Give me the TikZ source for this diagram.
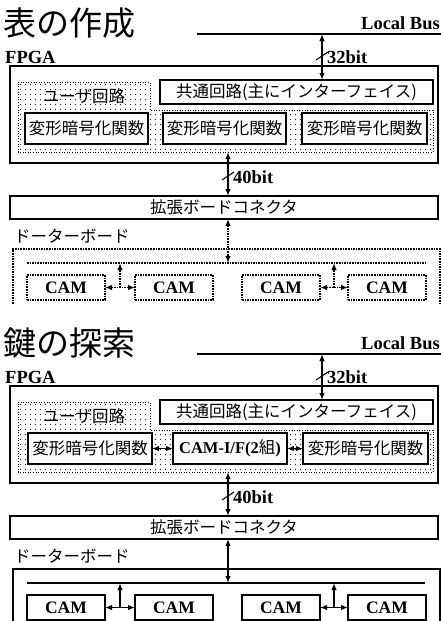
\documentclass[tikz,border=0pt]{standalone}
\usepackage{fontspec}
\setmainfont{Liberation Serif}
\newfontfamily\jp{Noto Sans CJK JP}
\usetikzlibrary{arrows.meta,calc}
\tikzset{
 jpt/.style={font=\jp\fontsize{16.5}{17}\selectfont},
 lat/.style={font=\bfseries\fontsize{18.5}{18.5}\selectfont},
 fbox/.style={draw, line width=1.3pt, inner sep=0pt, outer sep=0pt, anchor=north west},
 tbox/.style={draw, line width=2pt, fill=white, inner sep=0pt, outer sep=0pt, anchor=north west},
 cambox/.style={draw, line width=1.6pt, fill=white, inner sep=0pt, outer sep=0pt, anchor=north west, minimum width=78pt, minimum height=25pt, font=\bfseries\fontsize{17.5}{18}\selectfont},
 dbl/.style={line width=1.4pt, {Latex[length=7pt,width=5.5pt]}-{Latex[length=7pt,width=5.5pt]}},
 sgl/.style={line width=1.4pt, -{Latex[length=7pt,width=5.5pt]}},
 tickmark/.style={line width=1pt},
 dotl/.style={dash pattern=on 1.6pt off 1pt},
 solidl/.style={},
 userreg/.style={line width=0.9pt, dash pattern=on 1pt off 1.6pt},
}
\newcommand\drawpanel[3]{%
 \node[anchor=base west, font=\jp\fontsize{33}{33}\selectfont, inner sep=0pt] (#1title) at (3,35) {#2};
 \coordinate (#1busL) at (197,34);
 \coordinate (#1busR) at (441,34);
 \draw[line width=1.3pt] (#1busL) -- (#1busR);
 \node[lat, anchor=base east, inner sep=0pt] (#1lb) at (440,29) {Local Bus};
 \node[lat, anchor=base west, inner sep=0pt] (#1fl) at (5,63) {FPGA};
 \node[fbox, minimum width=428pt, minimum height=97pt] (#1fpga) at (10,66) {};
 \begin{scope}
  \clip (18,82) -- (150,82) -- (150,110) -- (433,110) -- (433,152) -- (18,152) -- cycle;
  \foreach \i in {0,...,83} {\foreach \j in {0,...,14} {\fill[black!85] (20.5+\i*5, 84.5+\j*5) circle (0.7pt);}}
 \end{scope}
 \draw[userreg] (18,82) -- (150,82) -- (150,110) -- (433,110) -- (433,152) -- (18,152) -- cycle;
 \node[jpt] (#1user) at (84,96) {ユーザ回路};
 \node[tbox, jpt, minimum width=273pt, minimum height=24pt] (#1com) at (160,80) {共通回路(主にインターフェイス)};
 \coordinate (#1a32) at (322,34);
 \draw[dbl] (#1a32) -- (#1a32 |- #1com.north);
 \coordinate (#1t32) at (322,56);
 \draw[tickmark] ([shift={(-6pt,-4pt)}]#1t32) -- ([shift={(6pt,4pt)}]#1t32);
 \node[lat, anchor=base west, inner sep=0pt] (#1l32) at (327,63) {32bit};
 \node[tbox, jpt, minimum width=428pt, minimum height=23pt] (#1conn) at (10,196) {拡張ボードコネクタ};
 \coordinate (#1ub) at (228,152);
 \draw[dbl] (#1ub) -- (#1ub |- #1conn.north);
 \coordinate (#1t40) at (228,176);
 \draw[tickmark] ([shift={(-6pt,-4pt)}]#1t40) -- ([shift={(6pt,4pt)}]#1t40);
 \node[lat, anchor=base west, inner sep=0pt] (#1l40) at (233,183) {40bit};
 \node[jpt, anchor=base west, inner sep=0pt] (#1dl) at (14,242) {ドーターボード};
 \draw[line width=1.5pt, #3] (13,304) -- (13,249) -- (440,249) -- (440,304);
 \coordinate (#1bus1) at (27,263);
 \coordinate (#1bus2) at (425,263);
 \draw[line width=1.5pt, #3] (#1bus1) -- (#1bus2);
 \draw[dbl, #3] (#1ub |- #1conn.south) -- (#1ub |- #1bus1);
 \node[cambox, #3] (#1c1) at (27,275) {CAM};
 \node[cambox, #3] (#1c2) at (135,275) {CAM};
 \node[cambox, #3] (#1c3) at (242,275) {CAM};
 \node[cambox, #3] (#1c4) at (348,275) {CAM};
 \draw[dbl, #3] (#1c1.east) -- (#1c2.west);
 \draw[dbl, #3] (#1c3.east) -- (#1c4.west);
 \coordinate (#1m1) at ($(#1c1.east)!0.5!(#1c2.west)$);
 \coordinate (#1m2) at ($(#1c3.east)!0.5!(#1c4.west)$);
 \draw[sgl, #3] (#1m1) -- (#1m1 |- #1bus1);
 \draw[sgl, #3] (#1m2) -- (#1m2 |- #1bus1);
}
\begin{document}
\begin{tikzpicture}[x=1pt, y=-1pt]
 \useasboundingbox (0,0) rectangle (441,621);
 \fill[white] (0,0) rectangle (441,621);
 \begin{scope}
  \drawpanel{a}{表の作成}{dotl}
  \node[tbox, jpt, minimum width=123pt, minimum height=31pt] (af1) at (25,113) {変形暗号化関数};
  \node[tbox, jpt, minimum width=123pt, minimum height=31pt] (af2) at (163,113) {変形暗号化関数};
  \node[tbox, jpt, minimum width=125pt, minimum height=31pt] (af3) at (302,113) {変形暗号化関数};
 \end{scope}
 \begin{scope}[yshift=-320pt]
  \drawpanel{b}{鍵の探索}{solidl}
  \node[tbox, jpt, minimum width=124pt, minimum height=31pt] (bf1) at (28,113) {変形暗号化関数};
  \node[tbox, minimum width=114pt, minimum height=31pt, font=\bfseries\fontsize{16.5}{17}\selectfont] (bcam) at (173,113) {CAM-I/F(2{\jp\mdseries 組})};
  \node[tbox, jpt, minimum width=125pt, minimum height=31pt] (bf3) at (303,113) {変形暗号化関数};
  \draw[dbl] (bf1.east) -- (bcam.west);
  \draw[dbl] (bcam.east) -- (bf3.west);
 \end{scope}
\end{tikzpicture}
\end{document}
